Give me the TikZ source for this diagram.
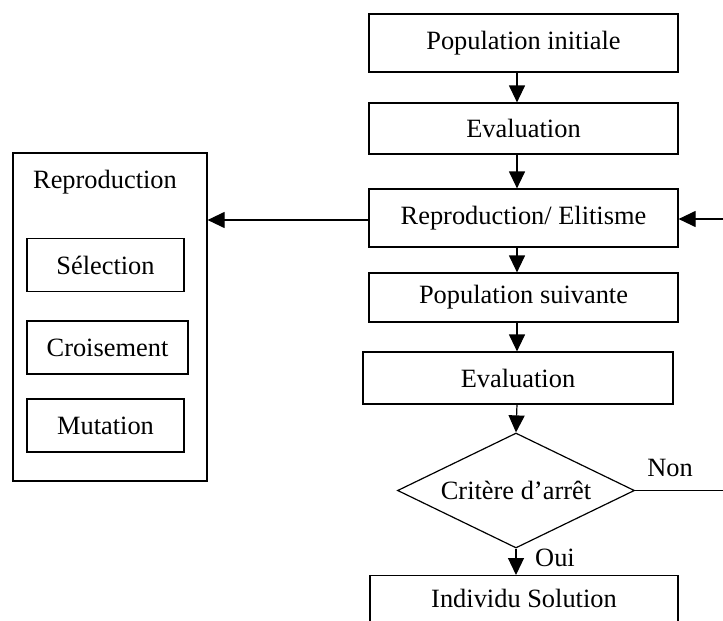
\documentclass[tikz,border=0pt]{standalone}
\usepackage{fontspec}
\setmainfont{Liberation Serif}
\usetikzlibrary{shapes.geometric,arrows.meta}
\begin{document}
\begin{tikzpicture}[x=1pt,y=-1pt,
  every node/.style={font=\fontsize{26.4}{30}\selectfont, inner sep=0pt},
  box/.style={draw, line width=1.2pt, minimum width=309pt, minimum height=#1},
  box/.default=54pt,
  sbox/.style={draw, line width=1.2pt, minimum height=53pt},
  arr/.style={line width=1.2pt, -{Triangle[length=17pt,width=16pt]}},
  ln/.style={line width=1.2pt}]
\useasboundingbox (0,0) rectangle (723,621);
\clip (0,0) rectangle (723,621);
% main column
\node[box=58pt] (pi) at (523.5,43) {Population initiale};
\node[box=51pt] (ev1) at (523.5,128.5) {Evaluation};
\node[box=58pt] (re) at (523.5,218) {Reproduction/ Elitisme};
\node[box=49pt] (ps) at (523.5,297.5) {Population suivante};
\node[box=52pt, minimum width=310pt] (ev2) at (518,378) {Evaluation};
\node[draw, shape=diamond, line width=1.2pt, minimum width=237pt, minimum height=115pt, aspect=2.06] (cr) at (516,490.5) {Critère d’arrêt};
\node[draw, line width=1.2pt, minimum width=308pt, minimum height=62pt, anchor=north] (is) at (524,575) {};
\node (ist) at (524,598) {Individu Solution};
% left block
\node[draw, line width=1.2pt, minimum width=194pt, minimum height=328pt] (rp) at (110,317) {};
\node (rpt) at (105,182) {Reproduction};
\node[sbox, minimum width=157pt] (se) at (105.5,265) {Sélection};
\node[sbox, minimum width=161pt] (co) at (107.5,347.5) {Croisement};
\node[sbox, minimum width=157pt] (mu) at (105.5,425.5) {Mutation};
% connectors
\coordinate (a1) at (517,72);
\coordinate (a2) at (517,154);
\coordinate (a3) at (517,247);
\coordinate (a4) at (517,322);
\coordinate (a5) at (517,404);
\draw[arr] (a1) -- (a1 |- ev1.north);
\draw[arr] (a2) -- (a2 |- re.north);
\draw[arr] (a3) -- (a3 |- ps.north);
\draw[arr] (a4) -- (a4 |- ev2.north);
\draw[arr] (a5) -- (cr.north);
\draw[arr] (cr.south) -- (cr.south |- is.north);
\coordinate (ra) at (re.west |- 0,220);
\draw[arr] (ra) -- (rp.east |- ra);
\coordinate (fb1) at (740,490.5);
\coordinate (fb2) at (740,219);
\draw[ln] (cr.east) -- (fb1) -- (fb2);
\draw[arr] (fb2) -- (re.east |- fb2);
\node (non) at (670,468) {Non};
\node (oui) at (555,558) {Oui};
\end{tikzpicture}
\end{document}
